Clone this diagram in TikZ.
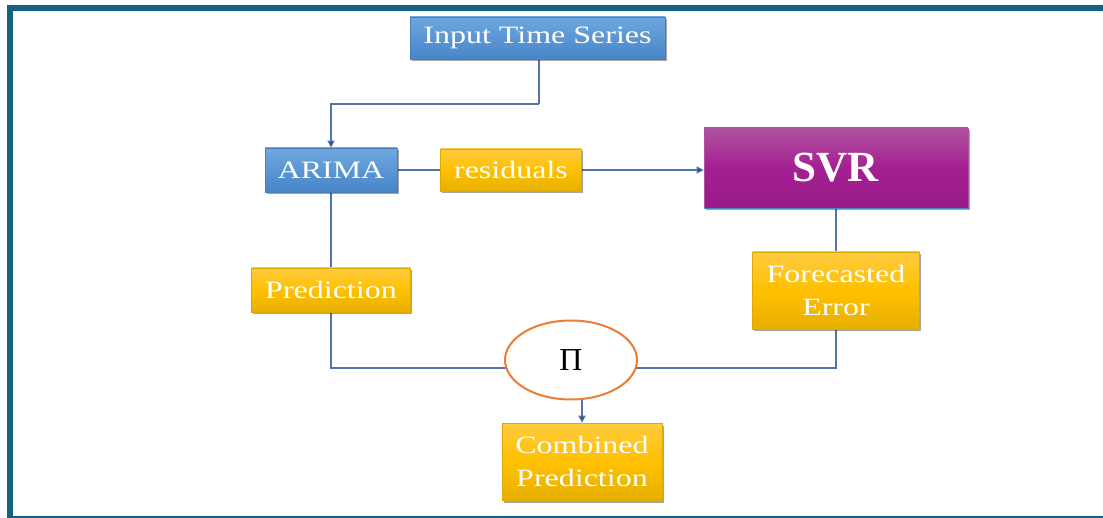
\documentclass[tikz,border=0pt]{standalone}
\usepackage{fontspec}
\setmainfont[FakeStretch=1.28]{Liberation Serif}
\newfontfamily\plainserif{Liberation Serif}
\usetikzlibrary{shadows,arrows.meta,shapes.geometric,backgrounds}
\definecolor{frame}{HTML}{17607F}
\definecolor{blueT}{HTML}{6FA8E0}
\definecolor{blueB}{HTML}{4785C8}
\definecolor{blueE}{HTML}{4A7FB8}
\definecolor{yelT}{HTML}{FFCB40}
\definecolor{yelM}{HTML}{FFC000}
\definecolor{yelB}{HTML}{E6B000}
\definecolor{yelE}{HTML}{E0A800}
\definecolor{purT}{HTML}{B0529F}
\definecolor{purM}{HTML}{A52093}
\definecolor{purB}{HTML}{981A88}
\definecolor{conn}{HTML}{5274A8}
\definecolor{tipc}{HTML}{1F3F8F}
\definecolor{orng}{HTML}{ED7D31}
\tikzset{
  basebox/.style={rectangle, inner sep=0pt, align=center, text=white,
    font=\fontsize{25}{33}\selectfont,
    drop shadow={shadow xshift=1.5pt, shadow yshift=-2.5pt, opacity=0.35, fill=black}},
  bluebox/.style={basebox, draw=blueE, line width=0.6pt, top color=blueT, bottom color=blueB},
  yelbox/.style={basebox, draw=yelE, line width=0.6pt, top color=yelT, bottom color=yelB, middle color=yelM},
  purbox/.style={basebox, draw=purT, line width=0.6pt, top color=purT, bottom color=purB, middle color=purM},
  conline/.style={draw=conn, line width=1.2pt},
  arr/.style={conline, -{Triangle[length=7pt,width=7pt,fill=tipc]}},
}
\begin{document}
\begin{tikzpicture}[x=1pt,y=-1pt]
\useasboundingbox (0,0) rectangle (1103,518);

% nodes
\node[bluebox, minimum width=255pt, minimum height=42pt] (input) at (537.5,38) {Input Time Series};
\node[bluebox, minimum width=132pt, minimum height=44pt] (arima) at (331,170) {ARIMA};
\node[yelbox, minimum width=141pt, minimum height=42pt] (resid) at (511,170) {residuals};
\node[purbox, minimum width=264pt, minimum height=80pt,
      font=\plainserif\bfseries\fontsize{43}{43}\selectfont] (svr) at (836,168) {SVR};
\draw[blueB, line width=1.5pt] (svr.south west) -- (svr.south east);
\node[yelbox, minimum width=167pt, minimum height=77pt] (fe) at (836,290.5) {Forecasted\\Error};
\node[yelbox, minimum width=159pt, minimum height=44pt] (pred) at (331,290) {Prediction};
\node[ellipse, draw=orng, line width=2pt, fill=white, minimum width=132pt, minimum height=79pt,
      inner sep=0pt, font=\plainserif\fontsize{32}{32}\selectfont] (pi) at (571,360) {Π};
\node[yelbox, minimum width=160pt, minimum height=77pt] (comb) at (582,461.5) {Combined\\Prediction};

% helper coordinates
\coordinate (j1) at (539,104);
\coordinate (pc) at (571,368);

\begin{scope}[on background layer]
% page and frame
\fill[white] (0,0) rectangle (1103,518);
\fill[frame] (7,5) rectangle (1103,11);
\fill[frame] (7,5) rectangle (13,518);
\fill[frame] (7,516) rectangle (1103,518);
% connectors
\draw[conline] (input.south -| j1) -- (j1);
\draw[arr] (j1) -| (arima.north);
\draw[conline] (arima.east) -- (resid.west);
\draw[arr] (resid.east) -- (svr.west |- resid.east);
\draw[conline] (svr.south) -- (fe.north);
\draw[conline] (arima.south) -- (pred.north);
\draw[conline] (pred.south) |- (pc);
\draw[conline] (fe.south) |- (pc);
\end{scope}
\draw[arr] (pi.south -| comb.north) -- (comb.north);
\end{tikzpicture}
\end{document}
